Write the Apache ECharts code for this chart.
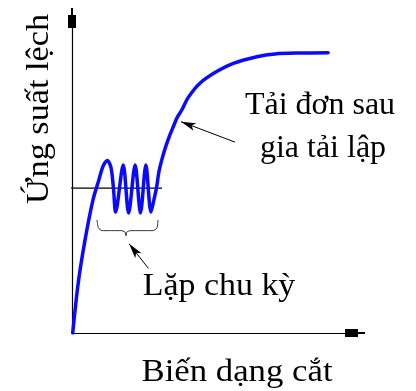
<!DOCTYPE html>
<html>
<head>
<meta charset="utf-8">
<script src="https://cdn.jsdelivr.net/npm/echarts@6/dist/echarts.min.js"></script>
<style>
  html, body { margin: 0; padding: 0; background: #fff; }
  #chart { width: 416px; height: 391px; }
</style>
</head>
<body>
<div id="chart"></div>
<script>
// Stress–strain path: monotonic rise, cyclic loading, then monotonic loading to the plateau
const curveStrain = [0.25, 2.2, 4.6, 7.4, 9.5, 11.0, 12.5, 13.8, 14.7, 15.4, 18.1, 20.0, 22.3, 24.2, 26.1, 27.9, 29.0, 29.9, 30.7, 31.8, 33.2, 34.6, 35.8, 37.1, 38.8, 41.1, 45.2, 51.1, 57.0, 65.3, 71.7, 80.6, 90.5];
const curveStress = [0, 15.9, 29.5, 42.2, 48.6, 53.0, 54.8, 52.4, 45.4, 38.4, 53.3, 38.1, 53.3, 38.1, 53.3, 38.4, 42.5, 46.3, 51.1, 55.2, 59.4, 62.9, 65.5, 68.3, 70.8, 74.8, 79.3, 83.0, 85.6, 87.7, 88.6, 88.9, 89.0];

// Reference stress level of the cycles
const cycleLevel = 46.0;
const cycleLevelFrom = -2.5;
const cycleLevelTo = 31.8;

// Brace grouping the cycles
const braceStrain = [8.83, 9.36, 10.6, 17.3, 18.7, 19.1, 19.4, 20.8, 28.6, 30.0, 30.4];
const braceStress = [35.9, 33.3, 32.5, 32.5, 32.1, 30.8, 32.1, 32.5, 32.5, 33.3, 35.9];

// Annotation arrows: [tail, head]
const arrowMonotonic = [[57.6, 60.6], [38.5, 67.1]];
const arrowCyclic = [[27.0, 20.5], [20.2, 28.3]];

// Texts
const xTitle = 'Biến dạng cắt';
const yTitle = 'Ứng suất lệch';
const noteMonotonic = ['Tải đơn sau', 'gia tải lập'];
const noteCyclic = 'Lặp chu kỳ';

const curveData = curveStrain.map((x, i) => [x, curveStress[i]]);
const braceData = braceStrain.map((x, i) => [x, braceStress[i]]);

const FONT = '32px "Liberation Serif", "Times New Roman", serif';
// axis arrow: narrow tip, then a wider head
const axisArrow = 'path://M3,0 L5,0 L5,7 L8,7 L8,20 L0,20 L0,7 L3,7 Z';

const chart = echarts.init(document.getElementById('chart'), null, { renderer: 'canvas' });

function textEl(text, x, y, opts) {
  opts = opts || {};
  return {
    type: 'text',
    x: x, y: y,
    rotation: opts.rotation || 0,
    scaleX: opts.scaleX || 1,
    silent: true,
    style: {
      text: text,
      font: FONT,
      fill: '#000',
      align: 'center',
      verticalAlign: 'middle'
    }
  };
}

const axisCommon = {
  type: 'value', min: 0, max: 100,
  axisLine: {
    show: true, onZero: false,
    symbol: ['none', axisArrow], symbolSize: [8, 20],
    lineStyle: { color: '#000', width: 1.2 }
  },
  axisTick: { show: false }, axisLabel: { show: false }, splitLine: { show: false }
};

chart.setOption({
  animation: false,
  backgroundColor: '#fff',
  grid: { left: 72, right: 61, top: 18, bottom: 58 },
  xAxis: Object.assign({}, axisCommon),
  yAxis: Object.assign({}, axisCommon),
  series: [
    {
      type: 'line',
      data: [[cycleLevelFrom, cycleLevel], [cycleLevelTo, cycleLevel]],
      clip: false, symbol: 'none', silent: true,
      lineStyle: { color: '#000', width: 1.2 },
      z: 1
    },
    {
      type: 'line',
      data: curveData,
      smooth: 0.3,
      symbol: 'none', silent: true,
      lineStyle: { color: '#0a0aff', width: 3.5, cap: 'round', join: 'round' },
      z: 3
    },
    {
      type: 'line',
      data: braceData,
      smooth: 0.2,
      symbol: 'none', silent: true,
      lineStyle: { color: '#333', width: 1 },
      z: 2,
      markLine: {
        silent: true,
        symbol: ['none', 'arrow'],
        symbolSize: [6, 15],
        label: { show: false },
        lineStyle: { color: '#000', width: 1, type: 'solid' },
        data: [
          [{ coord: arrowMonotonic[0] }, { coord: arrowMonotonic[1] }],
          [{ coord: arrowCyclic[0] }, { coord: arrowCyclic[1] }]
        ]
      }
    }
  ],
  graphic: [
    textEl(noteMonotonic[0], 320, 106),
    textEl(noteMonotonic[1], 323, 149),
    textEl(noteCyclic, 219, 287, { scaleX: 1.06 }),
    textEl(xTitle, 237, 373, { scaleX: 1.086 }),
    textEl(yTitle, 40, 109, { rotation: Math.PI / 2, scaleX: 1.07 })
  ]
});
</script>
</body>
</html>
